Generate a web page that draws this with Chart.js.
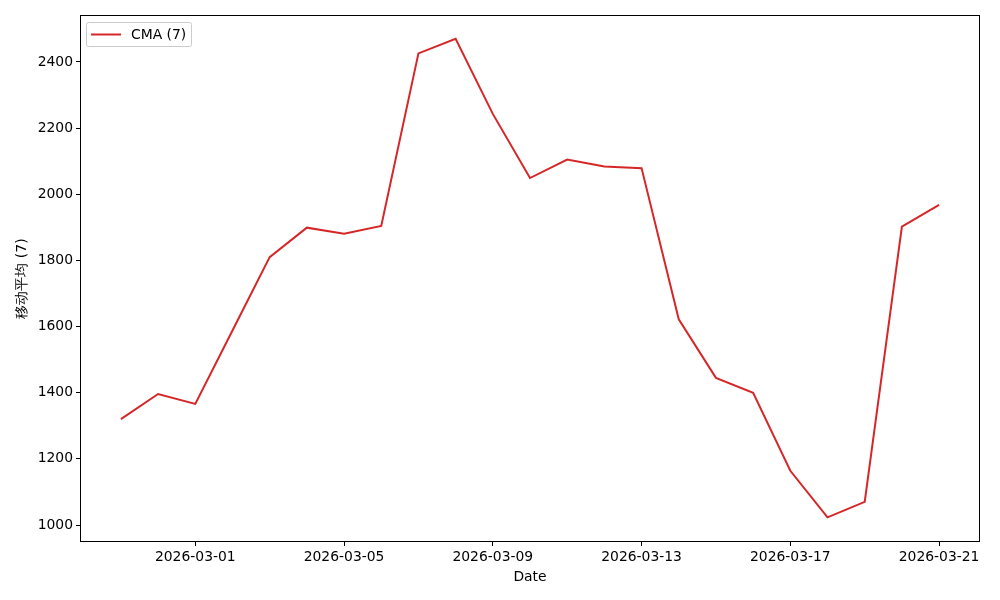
<!DOCTYPE html>
<html><head><meta charset="utf-8">
<script src="https://cdn.jsdelivr.net/npm/chart.js@4/dist/chart.umd.min.js"></script>
<style>html,body{margin:0;padding:0;background:#fff}#wrap{width:1000px;height:600px}</style>
</head><body><div id="wrap"><canvas id="c" width="1000" height="600"></canvas></div>
<script>
const dates = ["2026-02-27","2026-02-28","2026-03-01","2026-03-02","2026-03-03","2026-03-04","2026-03-05","2026-03-06","2026-03-07","2026-03-08","2026-03-09","2026-03-10","2026-03-11","2026-03-12","2026-03-13","2026-03-14","2026-03-15","2026-03-16","2026-03-17","2026-03-18","2026-03-19","2026-03-20","2026-03-21"];
const cmaValues = [1320,1396,1366,1588,1810,1899,1881,1904,2426,2470,2243,2049,2105,2084,2079,1622,1445,1400,1164,1023,1070,1902,1968];
const xTickDates = ["2026-03-01","2026-03-05","2026-03-09","2026-03-13","2026-03-17","2026-03-21"];
const yTicks = [1000,1200,1400,1600,1800,2000,2200,2400];
const seriesLabel = "CMA (7)";
const yTitle = "移动平均 (7)";
const xTitle = "Date";

const FONT = "'DejaVu Sans', sans-serif";
const points = cmaValues.map((v,i)=>({x:i,y:v}));

const framePlugin = {
  id:'frame',
  afterDraw(chart){
    const {ctx, chartArea:a} = chart;
    ctx.save();
    ctx.strokeStyle='#000'; ctx.lineWidth=1;
    ctx.strokeRect(Math.round(a.left)+0.5, Math.round(a.top)+0.5, Math.round(a.right-a.left)-1, Math.round(a.bottom-a.top)-1);
    // legend
    const lx=a.left+6.5, ly=a.top+7.5, lw=105, lh=24;
    ctx.fillStyle='rgba(255,255,255,0.8)';
    ctx.strokeStyle='#cccccc';
    ctx.beginPath();
    if (ctx.roundRect) ctx.roundRect(lx,ly,lw,lh,2); else ctx.rect(lx,ly,lw,lh);
    ctx.fill(); ctx.stroke();
    ctx.strokeStyle='#d62728'; ctx.lineWidth=2;
    ctx.beginPath(); ctx.moveTo(lx+4.5, ly+12); ctx.lineTo(lx+34.5, ly+12); ctx.stroke();
    ctx.fillStyle='#000'; ctx.font='13.9px '+FONT; ctx.textBaseline='middle'; ctx.textAlign='left';
    ctx.fillText(chart.data.datasets[0].label, lx+44.5, ly+12.5);
    ctx.restore();
  }
};

new Chart(document.getElementById('c'), {
  type:'line',
  data:{datasets:[{label:seriesLabel, data:points, borderColor:'#d62728', borderWidth:2, pointRadius:0, tension:0, fill:false}]},
  options:{
    responsive:false, animation:false, devicePixelRatio:1,
    layout:{padding:{left:0,right:20,top:15,bottom:0}},
    plugins:{legend:{display:false}, tooltip:{enabled:false}},
    scales:{
      x:{type:'linear', min:-1.1, max:23.1,
        afterBuildTicks(s){ s.ticks = xTickDates.map(d=>({value:dates.indexOf(d)})); },
        afterFit(s){ s.height = 58; },
        ticks:{color:'#000', font:{family:FONT,size:13.9}, padding:3, maxRotation:0, autoSkip:false,
          callback:(v)=>dates[v]},
        grid:{display:true, drawOnChartArea:false, drawTicks:true, tickLength:4, color:'#000'},
        border:{display:false},
        title:{display:true, text:xTitle, color:'#000', font:{family:FONT,size:13.9}, padding:{top:0,bottom:14}}
      },
      y:{type:'linear', min:948.6, max:2542,
        afterBuildTicks(s){ s.ticks = yTicks.map(v=>({value:v})); },
        afterFit(s){ s.width = 80; },
        ticks:{color:'#000', font:{family:FONT,size:13.9}, padding:3, callback:(v)=>String(v)},
        grid:{display:true, drawOnChartArea:false, drawTicks:true, tickLength:4, color:'#000'},
        border:{display:false},
        title:{display:true, text:yTitle, color:'#000', font:{family:FONT,size:13.9}, padding:{top:14,bottom:0}}
      }
    }
  },
  plugins:[framePlugin]
});
</script></body></html>
